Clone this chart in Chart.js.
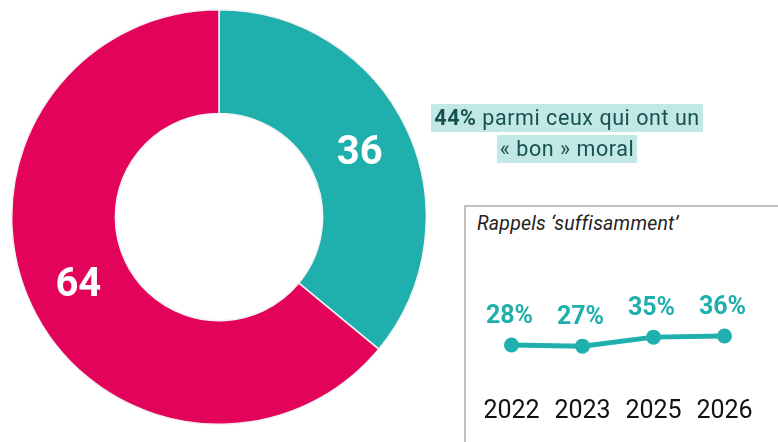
<!DOCTYPE html>
<html><head><meta charset="utf-8">
<script src="https://cdn.jsdelivr.net/npm/chart.js@4"></script>
<style>
html,body{margin:0;padding:0;background:#fff;width:778px;height:442px;overflow:hidden;font-family:Roboto,"Noto Sans",sans-serif;}
#dwrap{position:absolute;left:11px;top:9px;width:416px;height:416px;}
#note{position:absolute;left:407px;top:102px;width:320px;text-align:center;font-size:21.5px;line-height:31px;color:#17514f;letter-spacing:0.55px;}
#note span{background:#c2e8e6;padding:1px 3px 2px 3px;}
#inset{position:absolute;left:464px;top:205px;width:330px;height:260px;border:2px solid #c0c0c0;box-sizing:border-box;}
#ititle{position:absolute;left:477px;top:212px;font-size:19.5px;font-style:italic;color:#222;letter-spacing:0.2px;}
#lwrap{position:absolute;left:466px;top:240px;width:312px;height:202px;}
</style></head>
<body>
<div id="dwrap"><canvas id="donut"></canvas></div>
<div id="note"><span><b>44%</b> parmi ceux qui ont un</span><br><span>« bon » moral</span></div>
<div id="inset"></div>
<div id="ititle">Rappels ‘suffisamment’</div>
<div id="lwrap"><canvas id="line"></canvas></div>
<script>
const donutLabels = ["Oui", "Non"];
const donutValues = [36, 64];
const donutColors = ["#1fb0ae", "#e4035a"];

const years = ["2022", "2023", "2025", "2026"];
const rappels = [28, 27, 35, 36];

const teal = "#1fb0ae";

const donutLabelPlugin = {
  id: "donutLabels",
  afterDatasetsDraw(chart) {
    const ctx = chart.ctx;
    const meta = chart.getDatasetMeta(0);
    ctx.save();
    ctx.font = "bold 40px Roboto";
    ctx.fillStyle = "#fff";
    ctx.textAlign = "center";
    ctx.textBaseline = "middle";
    meta.data.forEach((arc, i) => {
      const p = arc.tooltipPosition();
      ctx.fillText(String(chart.data.datasets[0].data[i]), p.x, p.y + 3);
    });
    ctx.restore();
  }
};

new Chart(document.getElementById("donut"), {
  type: "doughnut",
  data: { labels: donutLabels, datasets: [{ data: donutValues, backgroundColor: donutColors, borderColor: "#f2f2f2", borderWidth: 1.5 }] },
  options: {
    responsive: true, maintainAspectRatio: false, animation: false,
    cutout: "50%",
    layout: { padding: 0 },
    plugins: { legend: { display: false }, tooltip: { enabled: false } }
  },
  plugins: [donutLabelPlugin]
});

const lineLabelPlugin = {
  id: "lineLabels",
  afterDatasetsDraw(chart) {
    const ctx = chart.ctx;
    const meta = chart.getDatasetMeta(0);
    ctx.save();
    ctx.textAlign = "center";
    ctx.textBaseline = "alphabetic";
    meta.data.forEach((pt, i) => {
      ctx.font = "bold 25px Roboto";
      ctx.fillStyle = teal;
      ctx.fillText(chart.data.datasets[0].data[i] + "%", pt.x - 2, pt.y - 22);
      ctx.font = "25px Roboto";
      ctx.fillStyle = "#111";
      ctx.fillText(chart.data.labels[i], pt.x, 178);
    });
    ctx.restore();
  }
};

new Chart(document.getElementById("line"), {
  type: "line",
  data: { labels: years, datasets: [{ data: rappels, borderColor: teal, backgroundColor: teal, borderWidth: 5, pointRadius: 7.5, pointBackgroundColor: teal, pointBorderWidth: 0, tension: 0 }] },
  options: {
    responsive: true, maintainAspectRatio: false, animation: false,
    layout: { padding: { left: 10, right: 18, top: 24, bottom: 65.5 } },
    plugins: { legend: { display: false }, tooltip: { enabled: false } },
    scales: {
      x: { display: false, offset: true },
      y: { display: false, min: 0, max: 100 }
    }
  },
  plugins: [lineLabelPlugin]
});
</script>
</body></html>
